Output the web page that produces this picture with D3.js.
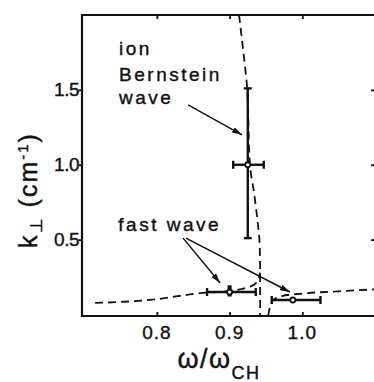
<!DOCTYPE html>
<html>
<head>
<meta charset="utf-8">
<script src="https://cdn.jsdelivr.net/npm/d3@7"></script>
<style>
  body { margin: 0; background: #fff; }
  svg { display: block; }
  text { font-family: "Liberation Sans", Arial, sans-serif; fill: #111; stroke: #111; stroke-width: 0.4px; }
</style>
</head>
<body>
<svg id="chart"></svg>
<script>
// dashed dispersion curves [omega/omegaCH, k]
var ibwBranch = [[0.913, 2.0], [0.919, 1.75], [0.924, 1.52], [0.928, 1.0], [0.934, 0.8], [0.939, 0.6], [0.941, 0.5], [0.942, 0.3], [0.942, -0.01]]
var fastLeft = [[0.715, 0.077], [0.79, 0.097], [0.863, 0.144], [0.9, 0.157], [0.922, 0.177], [0.930, 0.19], [0.936, 0.21], [0.940, 0.24], [0.942, 0.28]]
var fastRight = [[0.953, -0.01], [0.956, 0.06], [0.961, 0.1], [0.972, 0.123], [1.0, 0.14], [1.05, 0.155], [1.1, 0.168]]

// measured points with error bars
var points = [
    { x: 0.925, y: 1.0, x0: 0.905, x1: 0.947, y0: 0.51, y1: 1.51 },
    { x: 0.900, y: 0.15, x0: 0.869, x1: 0.936, y0: 0.12, y1: 0.195 },
    { x: 0.987, y: 0.097, x0: 0.958, x1: 1.025, y0: 0.097, y1: 0.097 }
]

var xTicks = [0.8, 0.9, 1.0]
var yTicks = [0.5, 1.0, 1.5]

// annotation arrows: from [x, y] to [x, y]
var arrows = [
    [[0.843, 1.40], [0.917, 1.20]],
    [[0.836, 0.51], [0.887, 0.21]],
    [[0.840, 0.51], [0.983, 0.15]]
]

var width = 374,
    height = 382

var x = d3.scaleLinear()
    .domain([0.697, 1.1])
    .range([82, 375])

var y = d3.scaleLinear()
    .domain([-0.01, 2.0])
    .range([316, 15])

var svg = d3.select("#chart")
    .attr("width", width)
    .attr("height", height)

svg.append("defs").append("marker")
    .attr("id", "head")
    .attr("viewBox", "0 0 10 6")
    .attr("refX", 10)
    .attr("refY", 3)
    .attr("markerWidth", 10)
    .attr("markerHeight", 6)
    .attr("markerUnits", "userSpaceOnUse")
    .attr("orient", "auto")
    .append("path")
    .attr("d", "M0,0L10,3L0,6Z")
    .attr("fill", "#111")

// frame
svg.append("path")
    .attr("d", "M" + (x.range()[1] + 1) + "," + y.range()[1] + "H" + x.range()[0] + "V" + y.range()[0] + "H" + (x.range()[1] + 1))
    .attr("fill", "none")
    .attr("stroke", "#111")
    .attr("stroke-width", 2.2)

// ticks
svg.append("g")
    .attr("transform", "translate(0," + y.range()[0] + ")")
    .call(d3.axisBottom(x).tickValues(xTicks).tickSize(-4).tickFormat(""))
    .call(g => g.select(".domain").remove())
svg.append("g")
    .attr("transform", "translate(0," + y.range()[1] + ")")
    .call(d3.axisTop(x).tickValues(xTicks).tickSize(-4).tickFormat(""))
    .call(g => g.select(".domain").remove())
svg.append("g")
    .attr("transform", "translate(" + x.range()[0] + ",0)")
    .call(d3.axisLeft(y).tickValues(yTicks).tickSize(3).tickFormat(""))
    .call(g => g.select(".domain").remove())
svg.append("g")
    .attr("transform", "translate(" + (x.range()[1] + 1) + ",0)")
    .call(d3.axisRight(y).tickValues(yTicks).tickSize(-5).tickFormat(""))
    .call(g => g.select(".domain").remove())
svg.selectAll(".tick line").attr("stroke", "#111").attr("stroke-width", 1.8)

// tick labels
svg.selectAll(".xlab")
    .data(xTicks)
    .enter().append("text")
    .attr("x", d => x(d))
    .attr("y", 339)
    .attr("text-anchor", "middle")
    .style("font-size", "19px")
    .style("letter-spacing", "1px")
    .text(d => d.toFixed(1))

svg.selectAll(".ylab")
    .data(yTicks)
    .enter().append("text")
    .attr("x", 79)
    .attr("y", d => y(d) + 6.5)
    .attr("text-anchor", "end")
    .style("font-size", "19px")
    .style("letter-spacing", "-0.5px")
    .text(d => d.toFixed(1))

// axis titles
var xt = svg.append("text")
    .attr("x", 219)
    .attr("y", 368)
    .attr("text-anchor", "middle")
    .style("font-size", "27px")
    .style("letter-spacing", "1.5px")
xt.append("tspan").text("ω/ω")
xt.append("tspan").attr("dy", 11).style("font-size", "18px").text("CH")

var yt = svg.append("text")
    .attr("transform", "translate(37,190) rotate(-90)")
    .attr("text-anchor", "middle")
    .style("font-size", "25px")
    .style("letter-spacing", "2px")
yt.append("tspan").text("k")
yt.append("tspan").attr("dy", 5).style("font-size", "17px").text("⊥")
yt.append("tspan").attr("dy", -5).text(" (cm")
yt.append("tspan").attr("dy", -9).style("font-size", "15px").text("-1")
yt.append("tspan").attr("dy", 9).text(")")

// dashed curves
var line = d3.line()
    .x(d => x(d[0]))
    .y(d => y(d[1]))
    .curve(d3.curveMonotoneY)

svg.append("path")
    .datum(ibwBranch)
    .attr("d", line)
    .attr("fill", "none")
    .attr("stroke", "#111")
    .attr("stroke-width", 1.8)
    .attr("stroke-dasharray", "8,5")

var line2 = d3.line()
    .x(d => x(d[0]))
    .y(d => y(d[1]))
    .curve(d3.curveMonotoneX)

svg.selectAll(".fast")
    .data([fastLeft, fastRight])
    .enter().append("path")
    .attr("d", line2)
    .attr("fill", "none")
    .attr("stroke", "#111")
    .attr("stroke-width", 1.8)
    .attr("stroke-dasharray", "8,5")

// error bars
var eb = svg.selectAll(".pt")
    .data(points)
    .enter().append("g")
    .attr("stroke", "#111")
    .attr("stroke-width", 2.4)

eb.append("line")
    .attr("x1", d => x(d.x0)).attr("x2", d => x(d.x1))
    .attr("y1", d => y(d.y)).attr("y2", d => y(d.y))
eb.append("line")
    .attr("x1", d => x(d.x0)).attr("x2", d => x(d.x0))
    .attr("y1", d => y(d.y) - 4).attr("y2", d => y(d.y) + 4)
eb.append("line")
    .attr("x1", d => x(d.x1)).attr("x2", d => x(d.x1))
    .attr("y1", d => y(d.y) - 4).attr("y2", d => y(d.y) + 4)
eb.filter(d => d.y1 > d.y0).append("line")
    .attr("x1", d => x(d.x)).attr("x2", d => x(d.x))
    .attr("y1", d => y(d.y0)).attr("y2", d => y(d.y1))
    .attr("stroke-width", d => d.y1 - d.y0 > 0.3 ? 2.4 : 4)
eb.filter(d => d.y1 - d.y0 > 0.3).append("line")
    .attr("x1", d => x(d.x) - 4).attr("x2", d => x(d.x) + 4)
    .attr("y1", d => y(d.y0)).attr("y2", d => y(d.y0))
eb.filter(d => d.y1 - d.y0 > 0.3).append("line")
    .attr("x1", d => x(d.x) - 4).attr("x2", d => x(d.x) + 4)
    .attr("y1", d => y(d.y1)).attr("y2", d => y(d.y1))
eb.append("circle")
    .attr("cx", d => x(d.x))
    .attr("cy", d => y(d.y))
    .attr("r", 2.5)
    .attr("fill", "#fff")
    .attr("stroke-width", 1.8)

// annotations
var labels = [
    ["ion", 0.748, 1.73],
    ["Bernstein", 0.748, 1.56],
    ["wave", 0.748, 1.405],
    ["fast wave", 0.747, 0.56]
]
svg.selectAll(".ann")
    .data(labels)
    .enter().append("text")
    .attr("x", d => x(d[1]))
    .attr("y", d => y(d[2]))
    .style("font-size", "19px")
    .style("letter-spacing", "2.5px")
    .text(d => d[0])

svg.selectAll(".arrow")
    .data(arrows)
    .enter().append("line")
    .attr("x1", d => x(d[0][0])).attr("y1", d => y(d[0][1]))
    .attr("x2", d => x(d[1][0])).attr("y2", d => y(d[1][1]))
    .attr("stroke", "#111")
    .attr("stroke-width", 1.5)
    .attr("marker-end", "url(#head)")
</script>
</body>
</html>
